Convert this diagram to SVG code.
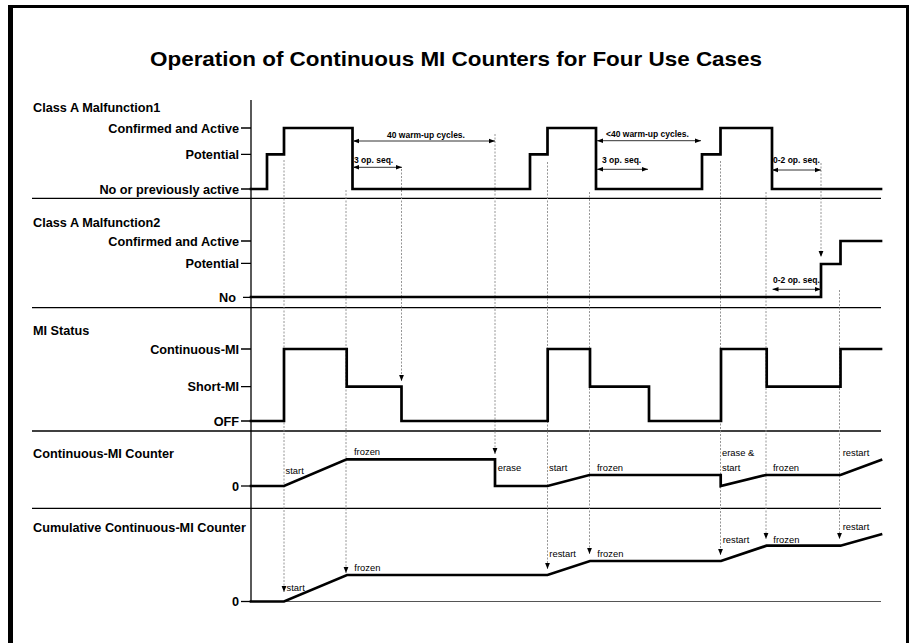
<svg xmlns="http://www.w3.org/2000/svg" width="912" height="643" viewBox="0 0 912 643">
<style>
.frame{fill:#000}
.title{font-family:"Liberation Sans",Arial,sans-serif;font-weight:bold;font-size:21px;fill:#000}
.lbl{font-family:"Liberation Sans",Arial,sans-serif;font-weight:bold;font-size:12.7px;fill:#000}
.lvl{font-family:"Liberation Sans",Arial,sans-serif;font-weight:bold;font-size:12.7px;fill:#000;text-anchor:end}
.dim{font-family:"Liberation Sans",Arial,sans-serif;font-weight:bold;font-size:8.5px;fill:#000}
.note{font-family:"Liberation Sans",Arial,sans-serif;font-size:9.4px;fill:#000}
.sep{stroke:#000;stroke-width:1.3;fill:none}
.tick{stroke:#000;stroke-width:1.3;fill:none}
.wave{stroke:#000;stroke-width:2.7;fill:none;stroke-linejoin:miter;stroke-linecap:square}
.dimline{stroke:#333;stroke-width:1;fill:none;marker-start:url(#arrL);marker-end:url(#arrR)}
.dot{stroke:#8a8a8a;stroke-width:0.9;stroke-dasharray:2,1.5;fill:none}
.dotA{stroke:#8a8a8a;stroke-width:0.9;stroke-dasharray:2,1.5;fill:none;marker-end:url(#arrD)}
.zero{stroke:#555;stroke-width:1;fill:none}
</style>
<defs>
<marker id="arrR" viewBox="0 0 6 6" refX="6" refY="3" markerWidth="6" markerHeight="6" markerUnits="userSpaceOnUse" orient="auto">
<path d="M0,0.8 L6,3 L0,5.2 Z" fill="#000"/>
</marker>
<marker id="arrL" viewBox="0 0 6 6" refX="0" refY="3" markerWidth="6" markerHeight="6" markerUnits="userSpaceOnUse" orient="auto">
<path d="M6,0.8 L0,3 L6,5.2 Z" fill="#000"/>
</marker>
<marker id="arrD" viewBox="0 0 6 6" refX="6" refY="3" markerWidth="6" markerHeight="6" markerUnits="userSpaceOnUse" orient="auto">
<path d="M0,0.6 L6,3 L0,5.4 Z" fill="#000"/>
</marker>
</defs>
<rect width="912" height="643" fill="#fff"/>
<g id="frame">
<rect class="frame" x="8" y="5" width="901" height="3"/>
<rect class="frame" x="8" y="5" width="5" height="638"/>
<rect class="frame" x="906" y="5" width="3" height="638"/>
</g>
<g id="title">
<text class="title" x="150" y="66" textLength="612" lengthAdjust="spacingAndGlyphs">Operation of Continuous MI Counters for Four Use Cases</text>
</g>
<g id="grid">
<line class="sep" x1="251" y1="100" x2="251" y2="601"/>
<line class="sep" x1="32" y1="198.3" x2="881" y2="198.3"/>
<line class="sep" x1="32" y1="307.7" x2="881" y2="307.7"/>
<line class="sep" x1="32" y1="431" x2="881" y2="431"/>
<line class="sep" x1="32" y1="508.3" x2="881" y2="508.3"/>
<line class="zero" x1="251" y1="601.5" x2="881" y2="601.5"/>
</g>
<g id="connectors">
<path class="dotA" d="M284,160 V592"/>
<path class="dotA" d="M346,190 V573"/>
<path class="dotA" d="M401.5,169 V381"/>
<path class="dotA" d="M495,134 V454"/>
<path class="dotA" d="M547.5,162 V569"/>
<path class="dotA" d="M589.5,192 V554"/>
<path class="dotA" d="M720.5,161 V555"/>
<path class="dotA" d="M766,192 V539"/>
<path class="dotA" d="M821,163 V257"/>
<path class="dotA" d="M839.5,290 V539"/>
</g>
<g id="malfunction1">
<text class="lbl" x="33" y="111.7">Class A Malfunction1</text>
<text class="lvl" x="239" y="132.5">Confirmed and Active</text>
<text class="lvl" x="239" y="158.8">Potential</text>
<text class="lvl" x="239" y="193.5">No or previously active</text>
<path class="tick" d="M241,128 H251 M241,154.3 H251 M241,189 H251"/>
<path class="wave" d="M251,189 H267 V154.3 H284 V128 H352.5 V189 H530 V154.3 H547.5 V128 H596 V189 H702 V154.3 H720.5 V128 H772 V189 H881"/>
<path class="dimline" d="M353,141 H495"/>
<text class="dim" x="387" y="137.5">40 warm-up cycles.</text>
<path class="dimline" d="M353,167.3 H402"/>
<text class="dim" x="354" y="163">3 op. seq.</text>
<path class="dimline" d="M597,140.7 H701"/>
<text class="dim" x="606" y="137">&lt;40 warm-up cycles.</text>
<path class="dimline" d="M597,169.3 H648"/>
<text class="dim" x="602" y="163.3">3 op. seq.</text>
<path class="dimline" d="M772,170 H821"/>
<text class="dim" x="773" y="163.3">0-2 op. seq.</text>
</g>
<g id="malfunction2">
<text class="lbl" x="33" y="226.7">Class A Malfunction2</text>
<text class="lvl" x="239" y="245.5">Confirmed and Active</text>
<text class="lvl" x="239" y="267.8">Potential</text>
<text class="lvl" x="236" y="301.8">No</text>
<path class="tick" d="M241,241 H251 M241,263.3 H251 M243,297.3 H251"/>
<path class="wave" d="M251,297 H821 V264 H840.5 V241 H881"/>
<path class="dimline" d="M772.5,289.3 H821"/>
<text class="dim" x="773" y="283">0-2 op. seq.</text>
</g>
<g id="mi-status">
<text class="lbl" x="33" y="335">MI Status</text>
<text class="lvl" x="239" y="353.5">Continuous-MI</text>
<text class="lvl" x="239" y="391.2">Short-MI</text>
<text class="lvl" x="239" y="425.5">OFF</text>
<path class="tick" d="M241,349 H251 M241,386.7 H251 M241,421 H251"/>
<path class="wave" d="M251,421 H284 V349 H346.7 V386.7 H401.5 V421 H547.7 V349 H590 V386.7 H649 V421 H721 V349 H766.7 V386.7 H840.5 V349 H881"/>
</g>
<g id="continuous-counter">
<text class="lbl" x="33" y="457.7">Continuous-MI Counter</text>
<text class="lvl" x="239" y="490.5">0</text>
<path class="tick" d="M241,486 H251"/>
<path class="wave" d="M251,486 H284 L346.7,459.3 H495 V486 H547.5 L589.5,475 H720.7 V486 L766,475 H840.5 L881,460" stroke-linecap="butt"/>
<text class="note" x="285.5" y="474">start</text>
<text class="note" x="354" y="455">frozen</text>
<text class="note" x="497.7" y="470.7">erase</text>
<text class="note" x="549" y="470.7">start</text>
<text class="note" x="597" y="470.7">frozen</text>
<text class="note" x="722" y="456">erase &amp;</text>
<text class="note" x="722" y="470.7">start</text>
<text class="note" x="773" y="470.7">frozen</text>
<text class="note" x="842.7" y="456">restart</text>
</g>
<g id="cumulative-counter">
<text class="lbl" x="33" y="532.3">Cumulative Continuous-MI Counter</text>
<text class="lvl" x="239" y="606">0</text>
<path class="tick" d="M241,601.5 H251"/>
<path class="wave" d="M251,601.5 H284 L347,575 H547.5 L590,561 H721 L766.5,545.7 H840.5 L881,534.3" stroke-linecap="butt"/>
<text class="note" x="286.5" y="591">start</text>
<text class="note" x="354.3" y="571">frozen</text>
<text class="note" x="549.3" y="556.7">restart</text>
<text class="note" x="597.3" y="556.7">frozen</text>
<text class="note" x="722.7" y="543.3">restart</text>
<text class="note" x="773.3" y="543.3">frozen</text>
<text class="note" x="842.7" y="530">restart</text>
</g>
</svg>
